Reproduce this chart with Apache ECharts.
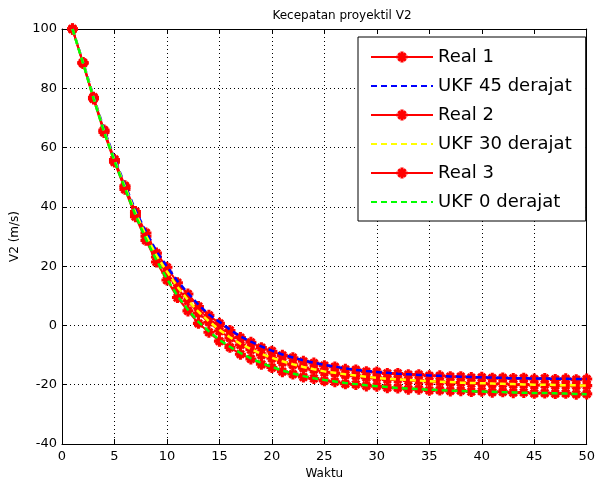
<!DOCTYPE html>
<html>
<head>
<meta charset="utf-8">
<script src="https://cdn.jsdelivr.net/npm/echarts@6/dist/echarts.min.js"></script>
<style>
html,body{margin:0;padding:0;background:#fff;}
#chart{width:598px;height:488px;}
</style>
</head>
<body>
<div id="chart"></div>
<script>
// x values (Waktu)
var waktu = [];
for (var i = 1; i <= 50; i++) waktu.push(i);

var real1 = [100, 88.7, 77.0, 65.9, 56.0, 47.1, 38.4, 31.2, 24.4, 19.6, 14.4, 10.6, 6.4, 3.4, 0.7, -1.7, -4.1, -5.7, -7.5, -8.7, -10.1, -10.9, -12.1, -12.7, -13.6, -14.0, -14.8, -15.0, -15.6, -15.7, -16.2, -16.2, -16.6, -16.6, -17.0, -17.0, -17.3, -17.3, -17.6, -17.5, -17.8, -17.7, -17.9, -17.8, -18.1, -17.9, -18.2, -18.0, -18.3, -18.1];
var ukf45 = [100, 88.9, 77.3, 66.2, 56.4, 47.4, 38.9, 31.5, 25.0, 19.9, 15.0, 10.9, 7.0, 3.7, 1.2, -1.4, -3.7, -5.5, -7.1, -8.5, -9.8, -10.8, -11.8, -12.6, -13.3, -13.9, -14.5, -15.0, -15.4, -15.7, -16.0, -16.3, -16.5, -16.7, -16.9, -17.0, -17.2, -17.3, -17.4, -17.5, -17.6, -17.7, -17.8, -17.8, -17.9, -17.9, -18.0, -18.0, -18.1, -18.1];

var real2 = [100, 88.6, 76.7, 65.6, 55.6, 46.6, 37.7, 30.1, 23.1, 17.9, 12.5, 8.3, 4.1, 1.1, -1.9, -4.2, -6.6, -8.2, -10.0, -11.1, -12.5, -13.3, -14.4, -14.9, -15.8, -16.1, -16.8, -17.0, -17.6, -17.7, -18.2, -18.2, -18.6, -18.6, -19.0, -19.0, -19.3, -19.3, -19.6, -19.5, -19.8, -19.7, -20.0, -19.9, -20.2, -20.0, -20.3, -20.2, -20.4, -20.3];
var ukf30 = [100, 88.7, 76.9, 65.7, 55.9, 46.8, 38.1, 30.4, 23.6, 18.2, 13.0, 8.6, 4.6, 1.4, -1.5, -4.0, -6.2, -8.0, -9.6, -10.9, -12.1, -13.1, -14.0, -14.8, -15.5, -16.0, -16.5, -16.9, -17.3, -17.7, -18.0, -18.2, -18.4, -18.6, -18.8, -19.0, -19.1, -19.3, -19.4, -19.5, -19.6, -19.7, -19.8, -19.9, -20.0, -20.0, -20.1, -20.2, -20.2, -20.3];

var real3 = [100, 88.4, 76.4, 65.1, 55.1, 45.9, 36.7, 28.7, 21.4, 15.3, 9.4, 4.9, 0.7, -2.3, -5.3, -7.4, -9.7, -11.3, -13.1, -14.2, -15.6, -16.4, -17.4, -17.9, -18.7, -19.0, -19.7, -19.9, -20.4, -20.5, -21.0, -21.1, -21.5, -21.5, -21.9, -21.8, -22.1, -22.0, -22.3, -22.2, -22.5, -22.4, -22.7, -22.6, -22.9, -22.8, -23.0, -22.9, -23.2, -23.1];
var ukf0 = [100, 88.5, 76.6, 65.3, 55.4, 46.2, 37.2, 29.1, 22.0, 15.7, 10.0, 5.3, 1.2, -2.0, -4.9, -7.2, -9.3, -11.1, -12.7, -14.0, -15.2, -16.2, -17.1, -17.8, -18.4, -18.9, -19.4, -19.8, -20.2, -20.5, -20.8, -21.1, -21.3, -21.5, -21.7, -21.8, -22.0, -22.1, -22.2, -22.3, -22.4, -22.5, -22.6, -22.7, -22.8, -22.8, -22.9, -23.0, -23.1, -23.2];

var xTicks = {min: 0, max: 50, interval: 5};
var yTicks = {min: -40, max: 100, interval: 20};
var names = ['Real 1', 'UKF 45 derajat', 'Real 2', 'UKF 30 derajat', 'Real 3', 'UKF 0 derajat'];

function pairs(ys) { return waktu.map(function (x, k) { return [x, ys[k]]; }); }

var star = 'path://M3.6,0L6.4,0L6.4,10L3.6,10Z M0,3.6L10,3.6L10,6.4L0,6.4Z M0.8,2.6L2.6,0.8L9.2,7.4L7.4,9.2Z M7.4,0.8L9.2,2.6L2.6,9.2L0.8,7.4Z';

function realSeries(name, ys) {
  return {
    name: name, type: 'line', data: pairs(ys), xAxisIndex: 0, yAxisIndex: 0,
    symbol: star, symbolSize: 11, showAllSymbol: true, z: 2,
    lineStyle: {color: '#ff0000', width: 2},
    itemStyle: {color: '#ff0000'},
    animation: false, clip: true
  };
}
function ukfSeries(name, ys, color) {
  return {
    name: name, type: 'line', data: pairs(ys), xAxisIndex: 0, yAxisIndex: 0,
    symbol: 'none', z: 3,
    lineStyle: {color: color, width: 2.5, type: [6, 4]},
    itemStyle: {color: color},
    animation: false
  };
}

var font = '"DejaVu Sans", Arial, sans-serif';
var chart = echarts.init(document.getElementById('chart'), null, {renderer: 'canvas'});
chart.setOption({
  animation: false,
  backgroundColor: '#ffffff',
  title: {
    text: 'Kecepatan proyektil V2', left: 337, top: 5, textAlign: 'center',
    textStyle: {fontFamily: font, fontSize: 12, fontWeight: 'normal', color: '#000'}
  },
  grid: {left: 62, right: 8, top: 29, bottom: 44, containLabel: false},
  legend: {
    orient: 'vertical', left: 358, top: 37,
    padding: [11, 14, 10, 12],
    itemWidth: 62, itemHeight: 14, itemGap: 11,
    backgroundColor: '#ffffff', borderColor: '#000', borderWidth: 1,
    textStyle: {fontFamily: font, fontSize: 18, color: '#000', lineHeight: 18},
    data: [
      {name: names[0]},
      {name: names[1], itemStyle: {opacity: 0}},
      {name: names[2]},
      {name: names[3], itemStyle: {opacity: 0}},
      {name: names[4]},
      {name: names[5], itemStyle: {opacity: 0}}
    ]
  },
  xAxis: [{
    type: 'value', min: xTicks.min, max: xTicks.max, interval: xTicks.interval,
    name: 'Waktu', nameLocation: 'middle', nameGap: 22,
    nameTextStyle: {fontFamily: font, fontSize: 12, color: '#000'},
    axisLine: {show: true, onZero: false, lineStyle: {color: '#000', width: 1}},
    axisTick: {show: true, inside: true, length: 5, lineStyle: {color: '#000'}},
    axisLabel: {fontFamily: font, fontSize: 13, color: '#000', margin: 6},
    splitLine: {show: true, lineStyle: {color: '#000', type: [1, 3], width: 1}}
  }, {
    type: 'value', position: 'top', min: xTicks.min, max: xTicks.max, interval: xTicks.interval,
    axisLine: {show: true, onZero: false, lineStyle: {color: '#000', width: 1}},
    axisTick: {show: true, inside: true, length: 5, lineStyle: {color: '#000'}},
    axisLabel: {show: false}, splitLine: {show: false}
  }],
  yAxis: [{
    type: 'value', min: yTicks.min, max: yTicks.max, interval: yTicks.interval,
    name: 'V2 (m/s)', nameLocation: 'middle', nameGap: 38, nameRotate: 90,
    nameTextStyle: {fontFamily: font, fontSize: 12, color: '#000'},
    axisLine: {show: true, onZero: false, lineStyle: {color: '#000', width: 1}},
    axisTick: {show: true, inside: true, length: 5, lineStyle: {color: '#000'}},
    axisLabel: {fontFamily: font, fontSize: 13, color: '#000', margin: 5},
    splitLine: {show: true, lineStyle: {color: '#000', type: [1, 3], width: 1}}
  }, {
    type: 'value', position: 'right', min: yTicks.min, max: yTicks.max, interval: yTicks.interval,
    axisLine: {show: true, onZero: false, lineStyle: {color: '#000', width: 1}},
    axisTick: {show: true, inside: true, length: 5, lineStyle: {color: '#000'}},
    axisLabel: {show: false}, splitLine: {show: false}
  }],
  series: [
    realSeries(names[0], real1),
    ukfSeries(names[1], ukf45, '#0000ff'),
    realSeries(names[2], real2),
    ukfSeries(names[3], ukf30, '#ffff00'),
    realSeries(names[4], real3),
    ukfSeries(names[5], ukf0, '#00ff00')
  ]
});
</script>
</body>
</html>
